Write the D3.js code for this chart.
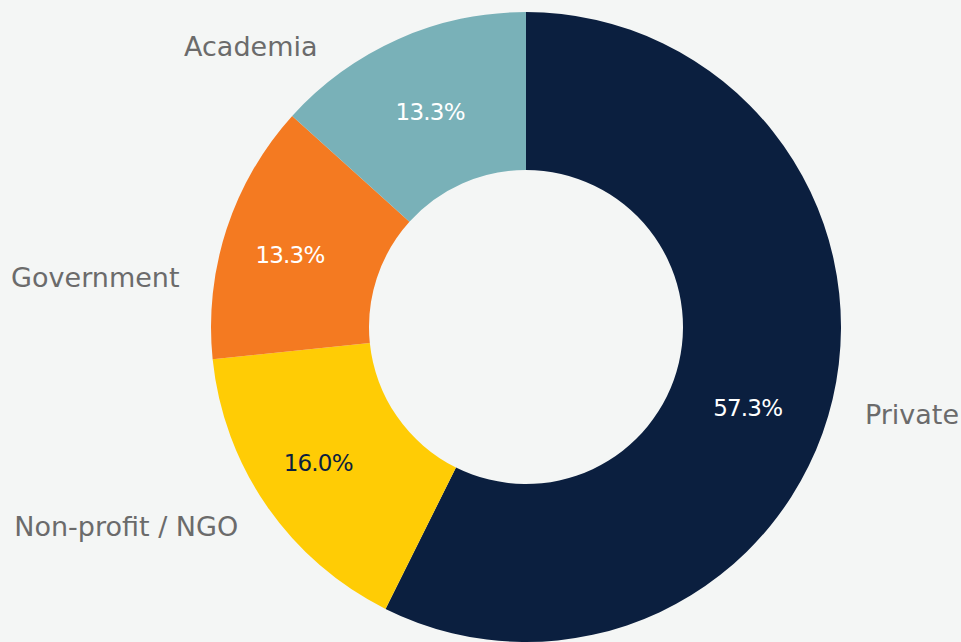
<!DOCTYPE html>
<html>
<head>
<meta charset="utf-8">
<script src="https://cdn.jsdelivr.net/npm/d3@7"></script>
<style>
    html, body { margin: 0; padding: 0; background: #f4f6f5; }
    svg { display: block; }
</style>
</head>
<body>
<script>
// sector order, clockwise from 12 o'clock
const categories = ["Private", "Non-profit / NGO", "Government", "Academia"];
const shares = [57.3, 16.0, 13.3, 13.3];
const shareLabels = ["57.3%", "16.0%", "13.3%", "13.3%"];
const colors = ["#0b1f3f", "#ffcc05", "#f47a21", "#79b1b8"];

function go() {
    const width = 961, height = 642;
    const cx = 526, cy = 327;
    const outerR = 315, innerR = 157, labelR = 350;

    // nudges (degrees / px) so the labels sit where the original put them
    const labelNudge = {"Academia": -12.6, "Government": -10, "Private": 1.2};
    const labelRadius = {"Private": 350};
    const pctNudge = {"Private": 6.8, "Non-profit / NGO": 1.6, "Government": -1};
    const pctR = {"Non-profit / NGO": 248, "Government": 247};

    const data = categories.map(function(c, i) {
        return {name: c, value: shares[i], text: shareLabels[i], color: colors[i]};
    });

    const pie = d3.pie()
        .value(function(d) { return d.value; })
        .sort(null);

    const arc = d3.arc()
        .innerRadius(innerR)
        .outerRadius(outerR);

    const svg = d3.select("body").append("svg")
        .attr("width", width)
        .attr("height", height);

    svg.append("rect")
        .attr("width", width)
        .attr("height", height)
        .attr("fill", "#f4f6f5");

    const g = svg.append("g")
        .attr("transform", "translate(" + cx + "," + cy + ")");

    const arcs = pie(data);

    g.selectAll("path.slice")
        .data(arcs)
        .enter().append("path")
        .attr("class", "slice")
        .attr("d", arc)
        .attr("fill", function(d) { return d.data.color; });

    function polar(d, nudge, r) {
        let a = (d.startAngle + d.endAngle) / 2 + (nudge[d.data.name] || 0) * Math.PI / 180;
        return "translate(" + (Math.sin(a) * r) + "," + (-Math.cos(a) * r) + ")";
    }

    // percentages inside the ring
    g.selectAll("text.pct")
        .data(arcs)
        .enter().append("text")
        .attr("class", "pct")
        .attr("transform", function(d) {
            return polar(d, pctNudge, pctR[d.data.name] || (innerR + outerR) / 2);
        })
        .attr("text-anchor", "middle")
        .attr("dy", "0.36em")
        .attr("font-family", "DejaVu Sans, sans-serif")
        .attr("font-size", 23)
        .attr("letter-spacing", -0.8)
        .attr("fill", function(d) { return d.data.name == "Non-profit / NGO" ? "#0b1f3f" : "#ffffff"; })
        .text(function(d) { return d.data.text; });

    // category names outside
    g.selectAll("text.cat")
        .data(arcs)
        .enter().append("text")
        .attr("class", "cat")
        .attr("transform", function(d) { return polar(d, labelNudge, labelRadius[d.data.name] || labelR); })
        .attr("text-anchor", function(d) {
            return (d.startAngle + d.endAngle) / 2 < Math.PI ? "start" : "end";
        })
        .attr("dy", "0.36em")
        .attr("font-family", "DejaVu Sans, sans-serif")
        .attr("font-size", 27)
        .attr("fill", "#6b6b6b")
        .text(function(d) { return d.data.name; });
}

window.onload = function() {
    go();
}
</script>
</body>
</html>
